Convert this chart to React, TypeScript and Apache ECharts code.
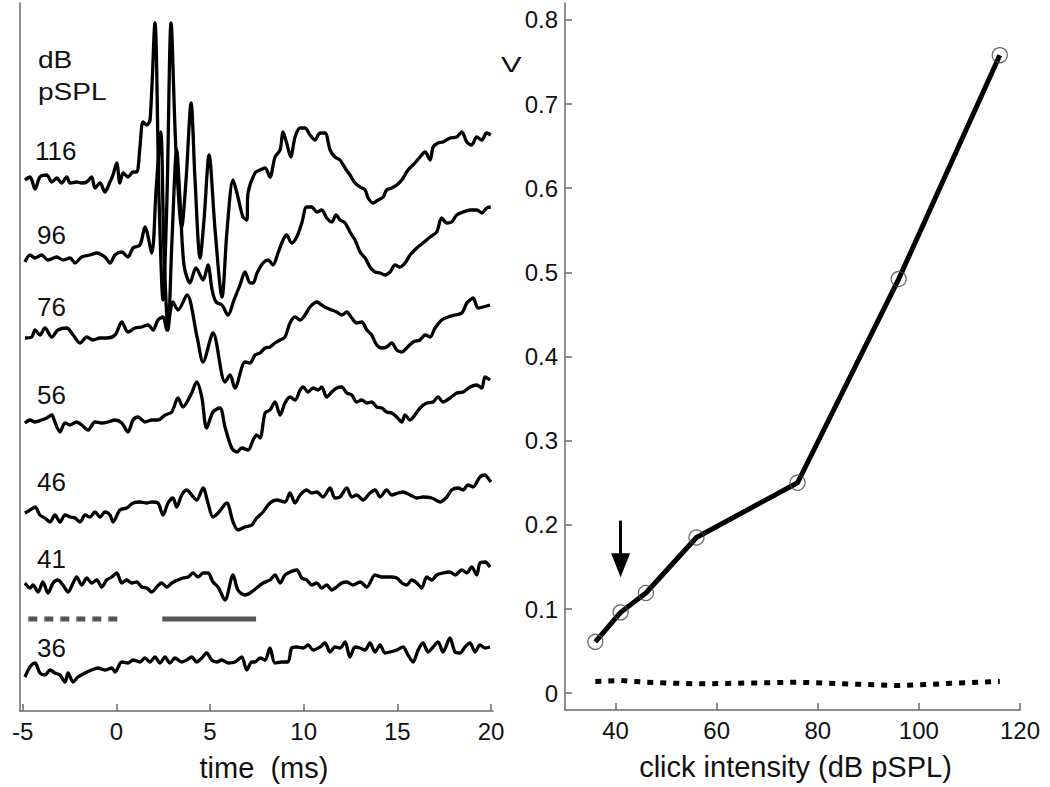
import React, { useEffect, useRef } from "react";
import * as echarts from "echarts";

// ---------- Left panel: ABR waveforms (time in ms, amplitude in arbitrary units) ----------
const levels = ["116", "96", "76", "56", "46", "41", "36"];
const traceOffsets = [530, 453, 373, 288, 198, 128, 41];

const trace116 = [[-4.88,1],[-4.61,4],[-4.34,-8],[-4.08,4],[-3.72,6],[-3.45,-1],[-3.18,3],[-2.92,-2],[-2.65,4],[-2.47,-2],[-2.12,-1],[-1.85,-2],[-1.58,-1],[-1.32,4],[-1.14,-7],[-0.87,-2],[-0.61,-11],[-0.34,-1],[-0.18,6],[0.02,18],[0.19,-2],[0.36,8],[0.62,4],[0.89,9],[1.09,9],[1.26,34],[1.42,59],[1.62,56],[1.80,61],[2.06,158],[2.28,-19],[2.49,-119],[2.70,-19],[2.92,158],[3.18,31],[3.49,-46],[3.72,1],[3.99,78],[4.20,1],[4.47,-77],[4.68,-39],[4.95,26],[5.27,-49],[5.64,-116],[5.91,-49],[6.23,1],[6.49,-16],[6.76,-36],[6.96,-39],[7.03,-12],[7.40,8],[7.67,11],[7.94,13],[8.20,4],[8.47,24],[8.74,31],[8.90,49],[9.09,38],[9.31,24],[9.54,44],[9.81,53],[10.07,53],[10.34,46],[10.61,41],[10.87,48],[11.14,48],[11.41,31],[11.67,24],[11.94,21],[12.21,13],[12.47,6],[12.74,-2],[13.01,-6],[13.28,-9],[13.44,-17],[13.70,-22],[13.97,-19],[14.24,-16],[14.43,-9],[14.70,-7],[14.97,-4],[15.24,1],[15.57,11],[15.94,18],[16.21,24],[16.48,29],[16.75,21],[16.91,34],[17.17,38],[17.44,39],[17.81,43],[18.17,44],[18.44,49],[18.71,39],[18.97,36],[19.24,44],[19.51,41],[19.77,48],[19.99,46]];

const trace96 = [[-4.88,-4],[-4.61,3],[-4.34,0],[-3.99,3],[-3.65,-2],[-3.18,1],[-2.85,-2],[-2.47,0],[-2.21,-5],[-1.85,1],[-1.41,3],[-1.05,5],[-0.61,1],[-0.34,-5],[-0.07,3],[0.29,6],[0.62,1],[0.89,10],[1.26,13],[1.53,31],[1.89,5],[2.12,68],[2.37,126],[2.54,8],[2.76,-72],[2.97,18],[3.22,108],[3.40,58],[3.61,-7],[3.93,-25],[4.25,-10],[4.63,-22],[4.89,-7],[5.11,-32],[5.32,-44],[5.64,-47],[5.96,-57],[6.28,-42],[6.60,-27],[6.87,-14],[7.14,-25],[7.30,-25],[7.51,-15],[7.83,-5],[8.10,-2],[8.36,-7],[8.63,5],[8.90,18],[9.09,23],[9.36,15],[9.63,21],[9.90,35],[10.16,51],[10.43,51],[10.70,46],[10.96,48],[11.23,40],[11.50,36],[11.73,43],[11.94,38],[12.21,35],[12.47,26],[12.74,18],[13.01,6],[13.28,0],[13.54,-9],[13.81,-14],[14.08,-15],[14.34,-17],[14.61,-14],[14.88,-7],[15.14,-9],[15.41,-5],[15.68,3],[16.04,10],[16.37,15],[16.75,21],[17.10,26],[17.37,40],[17.64,35],[17.90,36],[18.17,43],[18.51,46],[18.88,48],[19.24,48],[19.51,45],[19.77,50],[19.99,51]];

const trace76 = [[-4.88,0],[-4.52,1],[-4.34,8],[-4.08,3],[-3.81,10],[-3.45,1],[-3.12,8],[-2.65,10],[-2.31,3],[-1.94,-5],[-1.58,1],[-1.25,-2],[-0.87,0],[-0.52,0],[-0.07,3],[0.29,16],[0.62,6],[1.00,10],[1.35,11],[1.69,13],[1.96,8],[2.22,18],[2.49,21],[2.69,8],[3.02,36],[3.29,28],[3.77,43],[4.31,1],[4.63,-24],[5.16,5],[5.80,-44],[6.07,-37],[6.33,-50],[6.87,-24],[7.14,-25],[7.40,-17],[7.67,-15],[7.94,-10],[8.20,-9],[8.47,-5],[8.74,-2],[9.00,1],[9.27,15],[9.54,21],[9.81,18],[10.07,23],[10.34,31],[10.70,36],[10.96,33],[11.23,30],[11.50,28],[11.76,26],[12.03,23],[12.30,26],[12.57,20],[12.83,15],[13.10,16],[13.37,8],[13.63,3],[13.90,-7],[14.17,-10],[14.43,-9],[14.70,-5],[14.97,-12],[15.24,-14],[15.50,-10],[15.84,-4],[16.21,-2],[16.48,3],[16.75,1],[17.01,10],[17.37,18],[17.71,21],[18.08,23],[18.44,25],[18.71,35],[18.88,38],[19.04,40],[19.31,30],[19.58,31],[19.95,33]];

const trace56 = [[-4.88,0],[-4.61,3],[-4.34,1],[-3.99,3],[-3.72,5],[-3.45,8],[-3.28,1],[-3.01,-9],[-2.74,0],[-2.47,-2],[-2.12,1],[-1.85,-2],[-1.51,-7],[-1.14,1],[-0.78,0],[-0.45,1],[-0.07,3],[0.29,0],[0.62,-9],[0.89,3],[1.16,6],[1.53,1],[1.89,3],[2.22,3],[2.60,8],[2.96,11],[3.29,25],[3.56,16],[3.83,23],[4.02,30],[4.29,41],[4.56,26],[4.82,-5],[5.16,11],[5.53,15],[5.80,-4],[6.16,-25],[6.43,-29],[6.69,-25],[7.03,-27],[7.30,-17],[7.49,-12],[7.67,-15],[7.94,10],[8.20,13],[8.47,21],[8.74,8],[9.00,20],[9.27,26],[9.54,23],[9.81,33],[9.97,36],[10.23,31],[10.50,35],[10.77,33],[10.96,36],[11.23,26],[11.50,31],[11.76,35],[12.03,36],[12.30,30],[12.57,28],[12.83,21],[13.10,23],[13.37,20],[13.63,21],[13.90,16],[14.17,15],[14.43,11],[14.70,10],[14.97,6],[15.24,1],[15.41,8],[15.68,3],[15.94,8],[16.21,15],[16.57,20],[16.91,21],[17.17,26],[17.44,21],[17.81,25],[18.17,30],[18.51,31],[18.88,36],[19.24,38],[19.51,35],[19.68,46],[19.95,43]];

const trace46 = [[-4.88,0],[-4.61,3],[-4.34,6],[-4.08,-2],[-3.81,-5],[-3.54,-9],[-3.28,-2],[-3.01,-9],[-2.74,-2],[-2.47,-4],[-2.21,-5],[-1.94,-9],[-1.67,-2],[-1.41,-4],[-1.14,1],[-0.87,-4],[-0.61,1],[-0.34,-2],[-0.18,-9],[0.19,3],[0.55,5],[0.89,10],[1.26,11],[1.62,10],[1.89,11],[2.22,10],[2.49,-2],[2.76,10],[3.02,15],[3.22,6],[3.49,18],[3.76,23],[4.02,18],[4.29,13],[4.63,25],[4.89,10],[5.16,-4],[5.43,0],[5.89,10],[6.23,-9],[6.49,-17],[6.87,-14],[7.23,-12],[7.49,-5],[7.83,1],[8.20,10],[8.56,13],[9.00,11],[9.27,20],[9.54,10],[9.81,18],[10.16,23],[10.43,20],[10.70,21],[11.03,16],[11.41,25],[11.67,15],[11.94,16],[12.30,25],[12.57,16],[12.83,18],[13.17,13],[13.54,20],[13.81,23],[14.08,16],[14.43,23],[14.70,18],[15.04,20],[15.30,21],[15.68,18],[16.04,15],[16.37,16],[16.84,15],[17.28,11],[17.64,16],[17.90,23],[18.24,25],[18.51,23],[18.77,28],[19.04,26],[19.41,36],[19.68,38],[19.84,35],[19.99,31]];

const trace41 = [[-4.88,0],[-4.61,-5],[-4.45,-2],[-4.18,-9],[-3.92,1],[-3.65,-10],[-3.38,0],[-3.12,3],[-2.85,-2],[-2.58,-9],[-2.31,0],[-2.12,6],[-1.85,-2],[-1.58,5],[-1.32,0],[-1.05,3],[-0.78,-4],[-0.52,3],[-0.25,6],[0.02,10],[0.29,0],[0.55,3],[0.82,0],[1.09,1],[1.35,-4],[1.62,-5],[1.89,-9],[2.15,-4],[2.42,0],[2.69,-4],[2.96,0],[3.29,3],[3.56,5],[3.83,6],[4.09,10],[4.36,6],[4.63,10],[4.89,10],[5.16,1],[5.43,-4],[5.80,-17],[6.23,8],[6.49,-7],[6.87,-12],[7.14,-10],[7.49,-5],[7.83,0],[8.20,3],[8.47,8],[8.74,0],[9.00,8],[9.27,11],[9.63,13],[9.90,5],[10.16,3],[10.43,-2],[10.70,0],[10.96,-5],[11.23,-2],[11.50,-7],[11.76,-4],[12.03,0],[12.30,1],[12.63,-2],[13.01,1],[13.37,-4],[13.81,8],[14.17,6],[14.61,6],[14.97,5],[15.24,0],[15.50,-2],[15.77,3],[16.04,0],[16.30,-5],[16.57,6],[16.84,3],[17.10,8],[17.44,10],[17.81,11],[18.08,8],[18.44,13],[18.71,10],[18.97,16],[19.24,8],[19.41,20],[19.68,21],[19.95,16]];

const trace36 = [[-4.88,-7],[-4.61,3],[-4.34,7],[-4.08,-3],[-3.81,-5],[-3.54,0],[-3.28,-3],[-3.01,-5],[-2.74,-12],[-2.58,-3],[-2.31,-12],[-2.05,-7],[-1.67,-3],[-1.32,0],[-0.98,2],[-0.61,0],[-0.25,2],[-0.07,-2],[0.29,8],[0.62,7],[0.89,10],[1.26,8],[1.53,12],[1.80,8],[2.06,13],[2.33,7],[2.60,13],[2.86,7],[3.13,12],[3.49,8],[3.76,10],[4.02,13],[4.29,8],[4.56,12],[4.82,17],[5.09,10],[5.36,8],[5.62,10],[5.96,7],[6.33,8],[6.69,13],[6.96,0],[7.23,8],[7.40,8],[7.67,12],[7.94,10],[8.20,22],[8.47,7],[8.83,8],[9.16,8],[9.36,22],[9.63,23],[9.97,22],[10.23,25],[10.50,20],[10.87,23],[11.14,27],[11.41,18],[11.67,23],[11.94,22],[12.21,28],[12.47,13],[12.74,23],[13.01,22],[13.28,20],[13.54,27],[13.81,18],[14.08,25],[14.34,17],[14.61,18],[14.97,20],[15.30,23],[15.57,15],[15.84,8],[16.11,20],[16.37,27],[16.64,18],[16.91,23],[17.17,28],[17.44,18],[17.81,32],[18.08,18],[18.35,17],[18.61,23],[18.88,27],[19.15,18],[19.41,25],[19.68,22],[19.95,23]];

const traces = [trace116, trace96, trace76, trace56, trace46, trace41, trace36];

// analysis windows (ms) drawn under the 41 dB trace
const baselineWindow = [-4.7, 0.29];
const responseWindow = [2.45, 7.46];
const windowLevel = 92;

const timeTicks = [-5, 0, 5, 10, 15, 20];

// ---------- Right panel: response amplitude vs click intensity ----------
const intensities = [36, 41, 46, 56, 76, 96, 116];
const responseV = [0.061, 0.096, 0.119, 0.185, 0.25, 0.492, 0.758];
const noiseV = [0.014, 0.015, 0.013, 0.011, 0.013, 0.009, 0.014];
const intensityTicks = [40, 60, 80, 100, 120];
const voltTicks = [0, 0.1, 0.2, 0.3, 0.4, 0.5, 0.6, 0.7, 0.8];
const arrowAt = 41;
const arrowFrom = 0.205;
const arrowTo = 0.152;

const FONT = "'Liberation Sans', Arial, Helvetica, sans-serif";
const AXIS_COLOR = "#6a6a6a";

export default function App() {
  const ref = useRef<HTMLDivElement>(null);

  useEffect(() => {
    document.body.style.margin = "0";
    const chart = echarts.init(ref.current!, undefined, { renderer: "svg" });

    const traceSeries = traces.map((tr, i) => ({
      type: "line",
      name: levels[i] + " dB",
      xAxisIndex: 0,
      yAxisIndex: 0,
      data: tr.map(([t, a]) => [t, traceOffsets[i] + a]),
      symbol: "none",
      smooth: 0.3,
      silent: true,
      lineStyle: { color: "#000", width: 3.3, join: "round" },
      z: 3,
    }));

    const labelTexts = [
      { text: "dB", x: 38, y: 60, size: 23, sx: 1.22 },
      { text: "pSPL", x: 38, y: 92, size: 23, sx: 1.22 },
      { text: levels[0], x: 35, y: 151, size: 26, sx: 1 },
      { text: levels[1], x: 37, y: 235, size: 26, sx: 1 },
      { text: levels[2], x: 37, y: 307, size: 26, sx: 1 },
      { text: levels[3], x: 37, y: 395, size: 26, sx: 1 },
      { text: levels[4], x: 37, y: 482, size: 26, sx: 1 },
      { text: levels[5], x: 37, y: 559, size: 26, sx: 1 },
      { text: levels[6], x: 37, y: 648, size: 26, sx: 1 },
      { text: "V", x: 501, y: 65, size: 22, sx: 1.4 },
    ];

    const axisLabelStyle = { color: "#111", fontSize: 24, fontFamily: FONT };
    const axisLine = { show: true, onZero: false, lineStyle: { color: AXIS_COLOR, width: 1.5 } };

    chart.setOption({
      animation: false,
      backgroundColor: "#fff",
      grid: [
        { left: 20, top: 3, width: 473, height: 708, containLabel: false },
        { left: 565, top: 3, width: 455, height: 707, containLabel: false },
      ],
      xAxis: [
        {
          type: "value",
          gridIndex: 0,
          min: -5.144,
          max: 20.107,
          axisLine,
          axisTick: { show: true, inside: true, length: 7, customValues: timeTicks, lineStyle: { color: AXIS_COLOR, width: 1.5 } },
          axisLabel: { ...axisLabelStyle, margin: 8, customValues: timeTicks },
          splitLine: { show: false },
          name: "time  (ms)",
          nameLocation: "middle",
          nameGap: 42,
          nameTextStyle: { color: "#111", fontSize: 29, fontFamily: FONT, padding: [0, 0, 0, 15] },
        },
        {
          type: "value",
          gridIndex: 1,
          min: 30,
          max: 120,
          axisLine,
          axisTick: { show: true, inside: true, length: 7, customValues: intensityTicks, lineStyle: { color: AXIS_COLOR, width: 1.5 } },
          axisLabel: { ...axisLabelStyle, margin: 8, customValues: intensityTicks },
          splitLine: { show: false },
          name: "click intensity (dB pSPL)",
          nameLocation: "middle",
          nameGap: 42,
          nameTextStyle: { color: "#111", fontSize: 29, fontFamily: FONT, padding: [0, 0, 0, 6] },
        },
      ],
      yAxis: [
        {
          type: "value",
          gridIndex: 0,
          min: 0,
          max: 708,
          axisLine,
          axisTick: { show: false },
          axisLabel: { show: false },
          splitLine: { show: false },
        },
        {
          type: "value",
          gridIndex: 1,
          min: -0.02,
          max: 0.82,
          axisLine,
          axisTick: { show: true, inside: true, length: 7, customValues: voltTicks, lineStyle: { color: AXIS_COLOR, width: 1.5 } },
          axisLabel: { ...axisLabelStyle, margin: 7, customValues: voltTicks },
          splitLine: { show: false },
        },
      ],
      series: [
        ...traceSeries,
        {
          type: "line",
          name: "baseline window",
          xAxisIndex: 0,
          yAxisIndex: 0,
          data: baselineWindow.map((t) => [t, windowLevel]),
          symbol: "none",
          silent: true,
          lineStyle: { color: "#555", width: 5, type: [9, 7], cap: "butt" },
        },
        {
          type: "line",
          name: "response window",
          xAxisIndex: 0,
          yAxisIndex: 0,
          data: responseWindow.map((t) => [t, windowLevel]),
          symbol: "none",
          silent: true,
          lineStyle: { color: "#555", width: 5, cap: "butt" },
        },
        {
          type: "line",
          name: "noise",
          xAxisIndex: 1,
          yAxisIndex: 1,
          data: intensities.map((x, i) => [x, noiseV[i]]),
          symbol: "none",
          silent: true,
          lineStyle: { color: "#000", width: 5, type: [6, 7], cap: "butt" },
        },
        {
          type: "line",
          name: "response",
          xAxisIndex: 1,
          yAxisIndex: 1,
          data: intensities.map((x, i) => [x, responseV[i]]),
          symbol: "none",
          silent: true,
          lineStyle: { color: "#000", width: 5, join: "round" },
          markLine: {
            silent: true,
            symbol: ["none", "triangle"],
            symbolSize: [19, 24],
            label: { show: false },
            lineStyle: { color: "#000", width: 3, type: "solid" },
            data: [[{ coord: [arrowAt, arrowFrom] }, { coord: [arrowAt, arrowTo] }]],
          },
          z: 3,
        },
        {
          type: "scatter",
          name: "points",
          xAxisIndex: 1,
          yAxisIndex: 1,
          data: intensities.map((x, i) => [x, responseV[i]]),
          symbol: "circle",
          symbolSize: 15,
          silent: true,
          itemStyle: { color: "rgba(0,0,0,0)", borderColor: "#444", borderWidth: 1.3 },
          z: 4,
        },
      ],
      graphic: labelTexts.map((l) => ({
        type: "text",
        x: l.x,
        y: l.y,
        scaleX: l.sx,
        silent: true,
        style: {
          text: l.text,
          fill: "#111",
          fontSize: l.size,
          fontFamily: FONT,
          textAlign: "left",
          textVerticalAlign: "middle",
        },
      })),
    });

    return () => chart.dispose();
  }, []);

  return (
    <div
      ref={ref}
      style={{ position: "absolute", left: 0, top: 0, width: 1050, height: 787 }}
    />
  );
}
